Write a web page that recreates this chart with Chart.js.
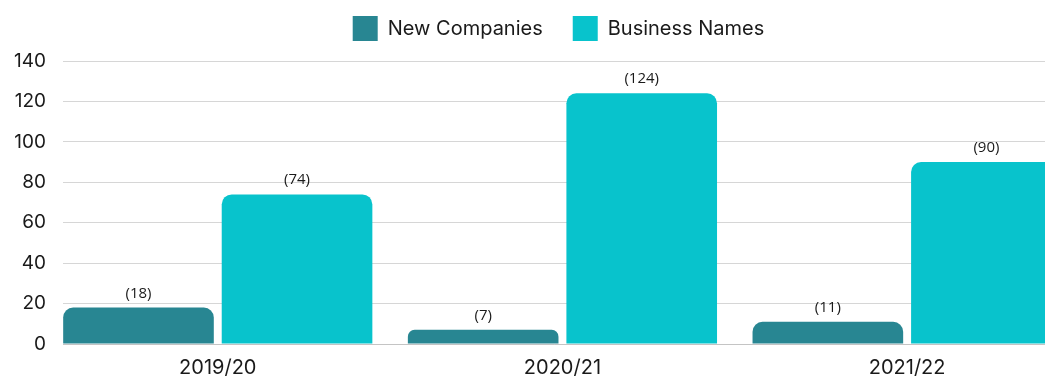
<!DOCTYPE html>
<html>
<head>
<meta charset="utf-8">
<script src="https://cdn.jsdelivr.net/npm/chart.js@4"></script>
<style>
  html, body { margin: 0; padding: 0; background: #fff; overflow: hidden; }
  #wrap { position: relative; width: 1045px; height: 378px; }
</style>
</head>
<body>
<div id="wrap"><canvas id="chart"></canvas></div>
<script>
const years = ["2019/20", "2020/21", "2021/22"];
const newCompanies = [18, 7, 11];
const businessNames = [74, 124, 90];
const yTicks = [0, 20, 40, 60, 80, 100, 120, 140];

const FONT = "Inter, 'Open Sans', sans-serif";

// bars sit on a numeric index axis so the outer groups can run to the edges
const toPoints = (vals) => vals.map((v, i) => ({ x: i, y: v }));

// "(n)" above each bar
const barValues = {
  id: "barValues",
  afterDatasetsDraw(chart) {
    const { ctx } = chart;
    ctx.save();
    ctx.font = "15px 'Open Sans', sans-serif";
    ctx.fillStyle = "#1a1a1a";
    ctx.textAlign = "center";
    ctx.textBaseline = "alphabetic";
    chart.data.datasets.forEach((ds, di) => {
      chart.getDatasetMeta(di).data.forEach((bar, i) => {
        ctx.fillText(`(${ds.data[i].y})`, bar.x, bar.y - 10);
      });
    });
    ctx.restore();
  },
};

// wide gaps between legend items but a tighter header band, nudged right
const legendTweak = {
  id: "legendTweak",
  beforeInit(chart) {
    const fit = chart.legend.fit;
    chart.legend.fit = function () {
      fit.bind(chart.legend)();
      this.height -= 4;
    };
  },
  afterLayout(chart) {
    const lg = chart.legend;
    lg.left += 36;
    lg.right += 36;
    lg.top -= 14;
    lg.bottom -= 14;
  },
};

new Chart(document.getElementById("chart"), {
  type: "bar",
  data: {
    datasets: [
      {
        label: "New Companies",
        data: toPoints(newCompanies),
        backgroundColor: "#288692",
        borderRadius: 10,
      },
      {
        label: "Business Names",
        data: toPoints(businessNames),
        backgroundColor: "#08c3cc",
        borderRadius: 10,
      },
    ],
  },
  options: {
    responsive: true,
    maintainAspectRatio: false,
    animation: false,
    categoryPercentage: 0.92,
    barPercentage: 0.95,
    layout: { padding: 0 },
    plugins: {
      tooltip: { enabled: false },
      legend: {
        position: "top",
        labels: {
          boxWidth: 25,
          boxHeight: 25,
          padding: 30,
          color: "#1a1a1a",
          font: { family: FONT, size: 20 },
        },
      },
    },
    scales: {
      x: {
        type: "linear",
        offset: false,
        min: -0.449,
        max: 2.4,
        grid: { display: false, drawTicks: false },
        border: { display: true, color: "#c4c4c4" },
        ticks: {
          stepSize: 1,
          includeBounds: false,
          padding: 12,
          color: "#1a1a1a",
          font: { family: FONT, size: 20 },
          callback: (v) => (Number.isInteger(v) ? years[v] : ""),
        },
        afterFit: (scale) => { scale.height = 34; },
      },
      y: {
        min: yTicks[0],
        max: yTicks[yTicks.length - 1],
        grid: { color: "#d6d6d6", drawTicks: false },
        border: { display: false },
        ticks: {
          stepSize: 20,
          padding: 17,
          color: "#1a1a1a",
          font: { family: FONT, size: 19 },
        },
        afterFit: (scale) => { scale.width = 63; },
      },
    },
  },
  plugins: [barValues, legendTweak],
});
</script>
</body>
</html>
